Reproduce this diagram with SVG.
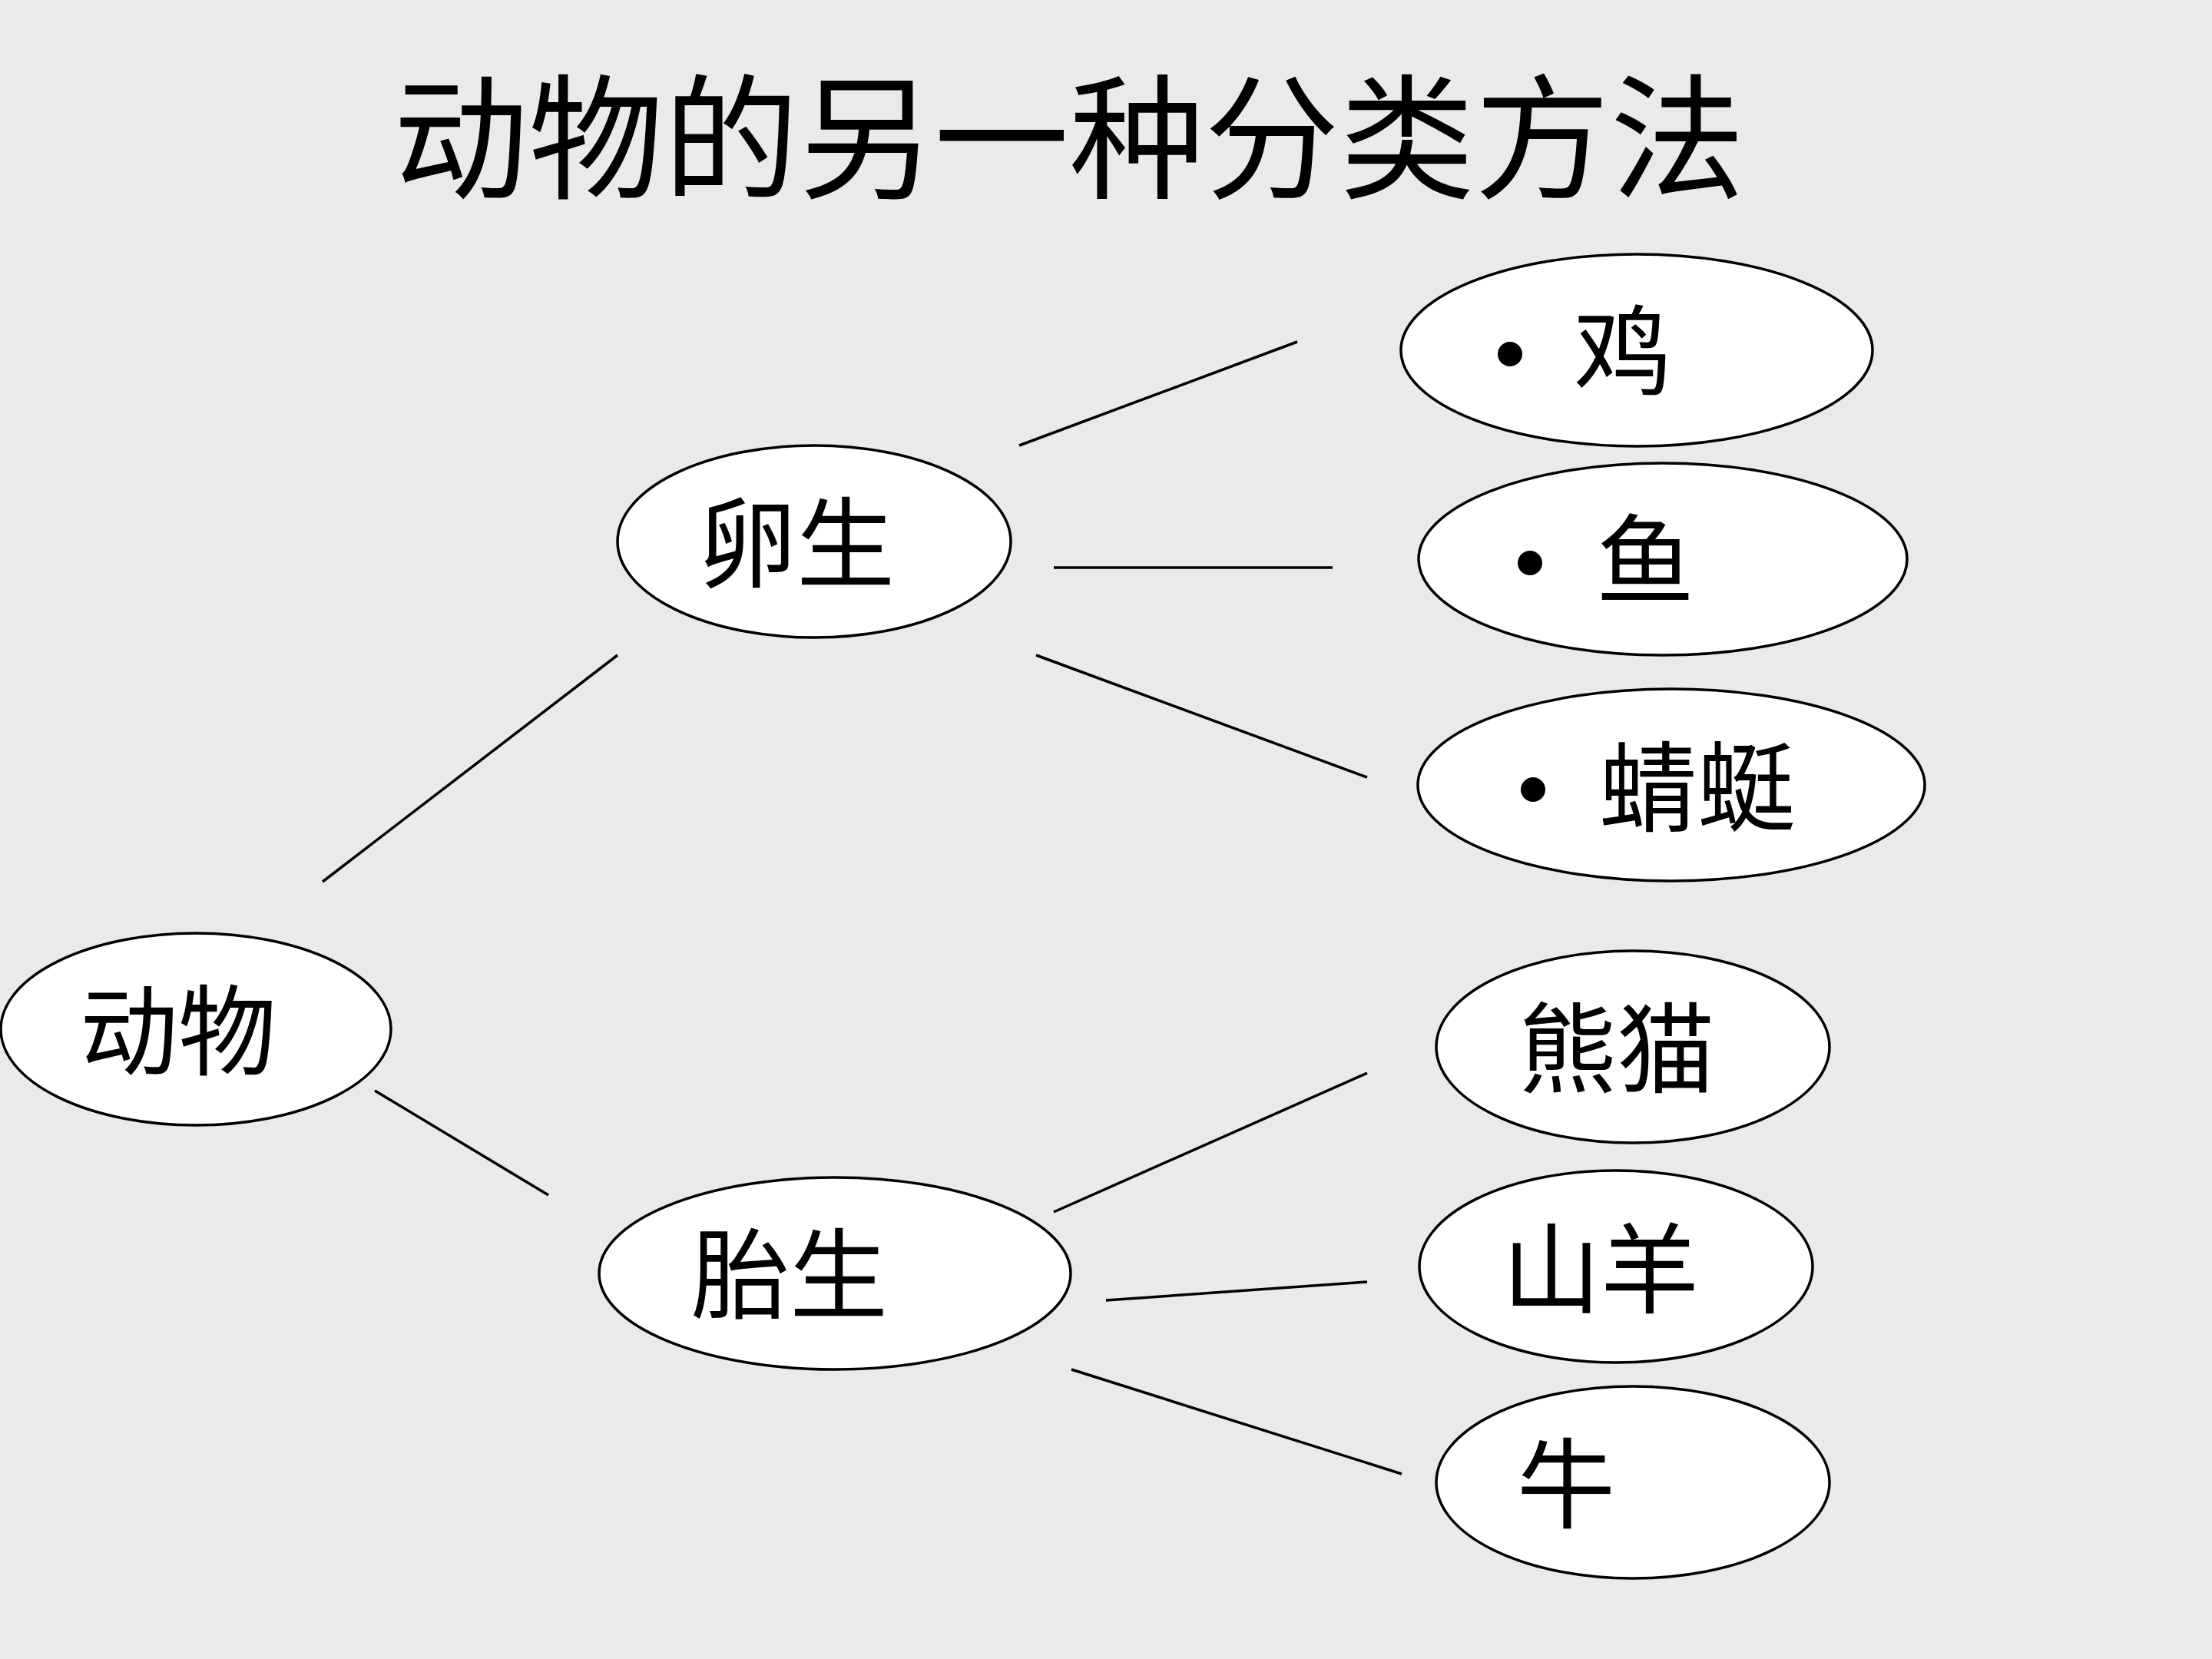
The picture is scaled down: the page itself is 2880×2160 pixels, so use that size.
<svg xmlns="http://www.w3.org/2000/svg" width="2880" height="2160" viewBox="0 0 2880 2160">
<style>
.bg{fill:#EAEAEA}
.node ellipse{fill:#FFFFFF;stroke:#000000;stroke-width:3.5}
.lbl{font-family:"Noto Sans CJK SC","Noto Sans CJK TC",sans-serif;font-size:128px;fill:#000000;text-anchor:middle}
.title{font-family:"Noto Sans CJK SC","Noto Sans CJK TC",sans-serif;font-size:176px;fill:#000000;text-anchor:middle}
.bullet{fill:#000000}
#connectors line{stroke:#000000;stroke-width:3.5;fill:none}
</style>
<rect class="bg" x="0" y="0" width="2880" height="2160"/>
<text class="title" x="1392" y="245">动物的另一种分类方法</text>
<g id="connectors">
<line x1="420" y1="1148" x2="804" y2="853"/>
<line x1="488" y1="1420" x2="714" y2="1556"/>
<line x1="1327" y1="580" x2="1689" y2="445"/>
<line x1="1372" y1="739" x2="1735" y2="739"/>
<line x1="1349" y1="853" x2="1780" y2="1012"/>
<line x1="1372" y1="1578" x2="1780" y2="1397"/>
<line x1="1440" y1="1693" x2="1780" y2="1669"/>
<line x1="1395" y1="1783" x2="1825" y2="1919"/>
</g>
<g id="node-dongwu" class="node">
<ellipse cx="255" cy="1340" rx="254" ry="125"/>
<text class="lbl" x="232" y="1390">动物</text>
</g>
<g id="node-luansheng" class="node">
<ellipse cx="1060" cy="705" rx="256" ry="125"/>
<text class="lbl" x="1037" y="755">卵生</text>
</g>
<g id="node-taisheng" class="node">
<ellipse cx="1087" cy="1658" rx="307" ry="125"/>
<text class="lbl" x="1028" y="1707">胎生</text>
</g>
<g id="node-ji" class="node">
<ellipse cx="2131" cy="456" rx="307" ry="125"/>
<circle class="bullet" cx="1966" cy="461" r="16"/>
<text class="lbl" x="2113" y="505">鸡</text>
</g>
<g id="node-yu" class="node">
<ellipse cx="2165" cy="728" rx="318" ry="125"/>
<circle class="bullet" cx="1992" cy="733" r="16"/>
<text class="lbl" x="2142" y="777">鱼</text>
</g>
<g id="node-qingting" class="node">
<ellipse cx="2176" cy="1022" rx="330" ry="125"/>
<circle class="bullet" cx="1996" cy="1028" r="16"/>
<text class="lbl" x="2210" y="1073">蜻蜓</text>
</g>
<g id="node-xiongmao" class="node">
<ellipse cx="2126" cy="1363" rx="256" ry="125"/>
<text class="lbl" x="2105" y="1413">熊猫</text>
</g>
<g id="node-shanyang" class="node">
<ellipse cx="2104" cy="1649" rx="256" ry="125"/>
<text class="lbl" x="2084" y="1700">山羊</text>
</g>
<g id="node-niu" class="node">
<ellipse cx="2126" cy="1930" rx="256" ry="125"/>
<text class="lbl" x="2039" y="1980">牛</text>
</g>
</svg>
